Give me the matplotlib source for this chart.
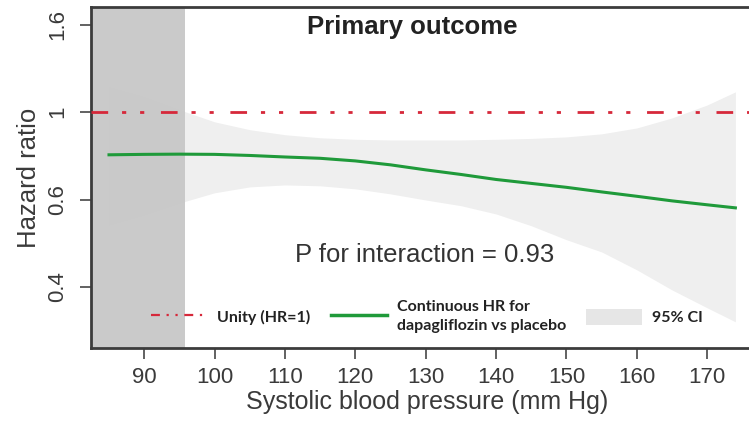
import numpy as np
import matplotlib
matplotlib.use('Agg')
import matplotlib.pyplot as plt
from matplotlib.lines import Line2D
from matplotlib.patches import Patch

# values
sbp = [85, 90, 95, 100, 105, 110, 115, 120, 125, 130, 135, 140, 145, 150, 155, 160, 165, 170, 174]
hr = [0.805, 0.807, 0.808, 0.807, 0.802, 0.795, 0.789, 0.777, 0.759, 0.736, 0.715, 0.692,
      0.674, 0.656, 0.635, 0.615, 0.597, 0.588, 0.581]
ci_low = [0.542, 0.565, 0.592, 0.631, 0.658, 0.667, 0.663, 0.649, 0.626, 0.599, 0.586, 0.567,
          0.540, 0.508, 0.480, 0.439, 0.393, 0.352, 0.320]
ci_high = [1.174, 1.106, 1.017, 0.956, 0.920, 0.897, 0.883, 0.876, 0.873, 0.873, 0.873, 0.876,
           0.880, 0.887, 0.901, 0.928, 0.974, 1.050, 1.140]
shade_start, shade_end = 82.4, 95.8
xticks = [90, 100, 110, 120, 130, 140, 150, 160, 170]
yticks = [0.4, 0.6, 1.0, 1.6]
ytick_labels = ['0.4', '0.6', '1', '1.6']

# the y axis has evenly spaced ticks, so map each tick to its own step
kv = np.array(yticks)
kp = np.arange(len(yticks), dtype=float)


def fwd(v):
    v = np.asarray(v, dtype=float)
    p = np.interp(v, kv, kp)
    p = np.where(v < kv[0], (v - kv[0]) / (kv[1] - kv[0]), p)
    p = np.where(v > kv[-1], kp[-1] + (v - kv[-1]) / (kv[-1] - kv[-2]), p)
    return p


def inv(p):
    p = np.asarray(p, dtype=float)
    v = np.interp(p, kp, kv)
    v = np.where(p < kp[0], kv[0] + p * (kv[1] - kv[0]), v)
    v = np.where(p > kp[-1], kv[-1] + (p - kp[-1]) * (kv[-1] - kv[-2]), v)
    return v


plt.rcParams['font.family'] = ['Liberation Sans', 'DejaVu Sans']

fig = plt.figure(figsize=(7.49, 4.24), dpi=100)
ax = fig.add_axes([0.1211, 0.1792, 0.8983, 0.8043])
ax.set_yscale('function', functions=(fwd, inv))

ax.fill_between(sbp, ci_low, ci_high, color='#efefef', lw=0, zorder=1)
ax.axvspan(shade_start, shade_end, color='#c6c6c6', alpha=0.93, lw=0, zorder=2)
ax.axhline(1.0, color='#d6283a', lw=2.0, dashes=(6, 5, 1.5, 5, 1.5, 6), zorder=3)
ax.plot(sbp, hr, color='#1f9a3a', lw=2.2, zorder=4)

ax.set_xlim(shade_start, 178)
ax.set_ylim(0.26, 1.723)
ax.set_xticks(xticks)
ax.set_yticks(yticks)
ax.set_yticklabels(ytick_labels, rotation=90, va='center')
ax.yaxis.set_minor_locator(matplotlib.ticker.NullLocator())

for side in ['left', 'bottom', 'top', 'right']:
    ax.spines[side].set_color('#3c3c3c')
    ax.spines[side].set_linewidth(2.0)
ax.tick_params(axis='both', length=8, width=1.3, color='#555555',
               labelsize=16, labelcolor='#3a3a3a')
ax.tick_params(axis='x', pad=6)
ax.tick_params(axis='y', pad=8)

ax.set_xlabel('Systolic blood pressure (mm Hg)', fontsize=18, color='#3a3a3a', labelpad=1)
ax.set_ylabel('Hazard ratio', fontsize=18.5, color='#3a3a3a', labelpad=5)

ax.text(0.478, 0.941, 'Primary outcome', transform=ax.transAxes, ha='center', va='center',
        fontsize=18.5, fontweight='bold', color='#222222')
ax.text(0.497, 0.273, 'P for interaction = 0.93', transform=ax.transAxes, ha='center',
        va='center', fontsize=18.5, color='#333333')

handles = [
    Line2D([], [], color='#d6283a', lw=1.6, dashes=(4, 3, 1, 3, 1, 3)),
    Line2D([], [], color='#1f9a3a', lw=2.5),
    Patch(facecolor='#e6e6e6', edgecolor='none'),
]
labels = ['Unity (HR=1)', 'Continuous HR for\ndapagliflozin vs placebo', '95% CI']
leg = ax.legend(handles, labels, ncol=3, loc='center left',
                bbox_to_anchor=(0.078, 0.092), frameon=False,
                prop={'family': 'Lato', 'weight': 'bold', 'size': 11.5},
                handlelength=3.5, handleheight=1.2, handletextpad=0.65,
                columnspacing=1.25, borderpad=0, labelspacing=0.25)
for t in leg.get_texts():
    t.set_color('#222222')
    t.set_linespacing(1.45)

fig.savefig('out.png', dpi=100)
